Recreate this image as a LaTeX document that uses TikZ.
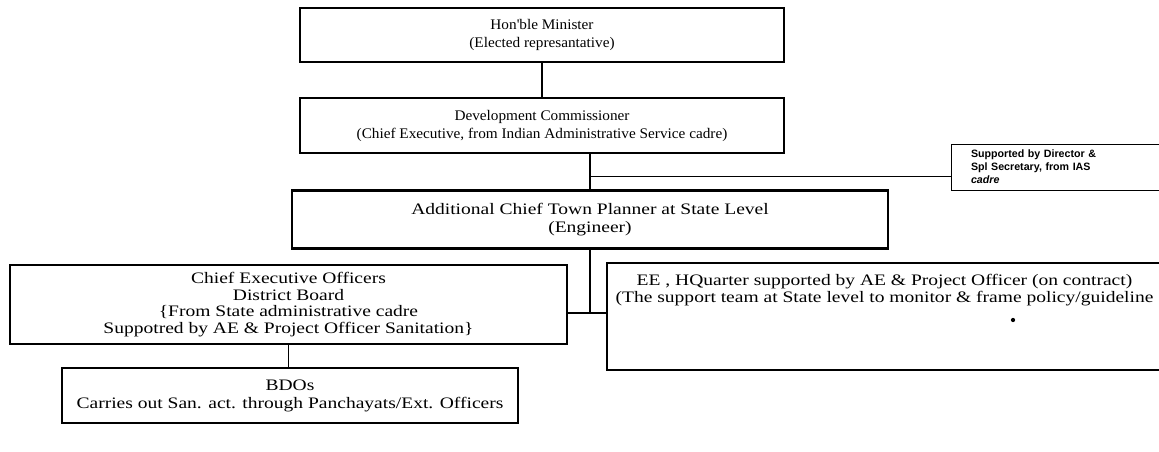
\documentclass[tikz,border=0pt]{standalone}
\usepackage{fontspec}
\setmainfont{Liberation Serif}[FakeStretch=1.04]
\newfontfamily\widefont{Liberation Serif}[FakeStretch=1.22]
\newfontfamily\notefont{Liberation Sans}
\usetikzlibrary{positioning}

\begin{document}
\begin{tikzpicture}[x=0.75pt, y=-0.75pt,
    every node/.style={align=center, font=\fontsize{11}{13.5}\selectfont},
    orgbox/.style={draw, line width=1.7pt, inner sep=0pt},
    widebox/.style={orgbox, font=\widefont\fontsize{12}{12.4}\selectfont},
    notebox/.style={draw, line width=0.7pt, align=left, inner xsep=15pt,
      text width=141pt, minimum height=34.5pt, font=\notefont\bfseries\fontsize{8}{9.8}\selectfont},
    link/.style={line width=1.2pt}]
  \useasboundingbox (0,0) rectangle (1159,452);
  \clip (0,0) rectangle (1159,452);

  \node[orgbox,minimum width=363pt,minimum height=40.5pt] (minister) at (542,35) {Hon\textquotesingle ble Minister\\(Elected represantative)};
  \node[orgbox,minimum width=363pt,minimum height=41.25pt] (devcomm) at (542,125.5) {Development Commissioner\\(Chief Executive, from Indian Administrative Service cadre)};
  \node[widebox,minimum width=447pt,minimum height=43.5pt,font=\widefont\fontsize{12}{14}\selectfont] (planner) at (590,219.5) {Additional Chief Town Planner at State Level\\(Engineer)};
  \node[notebox] (support) at (1065,167) {Supported by Director \&\\Spl Secretary, from IAS\\\textit{cadre}};
  \node[widebox,minimum width=417.75pt,minimum height=59pt] (ceo) at (288.5,304.5) {Chief Executive Officers\\District Board\\\{From State administrative cadre\\Suppotred by AE \& Project Officer Sanitation\}};
  \node[widebox,minimum width=416.25pt,minimum height=80.25pt] (ee) at (884.5,316.5) {};
  \node[below=6pt of ee.north,font=\widefont\fontsize{12}{12.4}\selectfont] (eetext) {EE , HQuarter supported by AE \& Project Officer (on contract)\\(The support team at State level to monitor \& frame policy/guideline};
  \fill (1013,320) circle (1.6pt);
  \node[widebox,minimum width=342pt,minimum height=41.25pt,font=\widefont\fontsize{12}{13.5}\selectfont] (bdo) at (290,395.5) {BDOs\\Carries out San. act. through Panchayats/Ext. Officers};

  % reporting lines
  \draw[link] (minister) -- (devcomm);
  \draw[link] (planner.north |- devcomm.south) -- (planner.north);
  \coordinate (branch) at (590,176);
  \draw[line width=0.6pt] (branch) -- (branch -| support.west);
  \coordinate (junction) at (590,313);
  \draw[link] (planner.south) -- (junction);
  \draw[link] (junction -| ceo.east) -- (junction -| ee.west);
  \draw[link] (ceo.south) -- (ceo.south |- bdo.north);
\end{tikzpicture}
\end{document}
